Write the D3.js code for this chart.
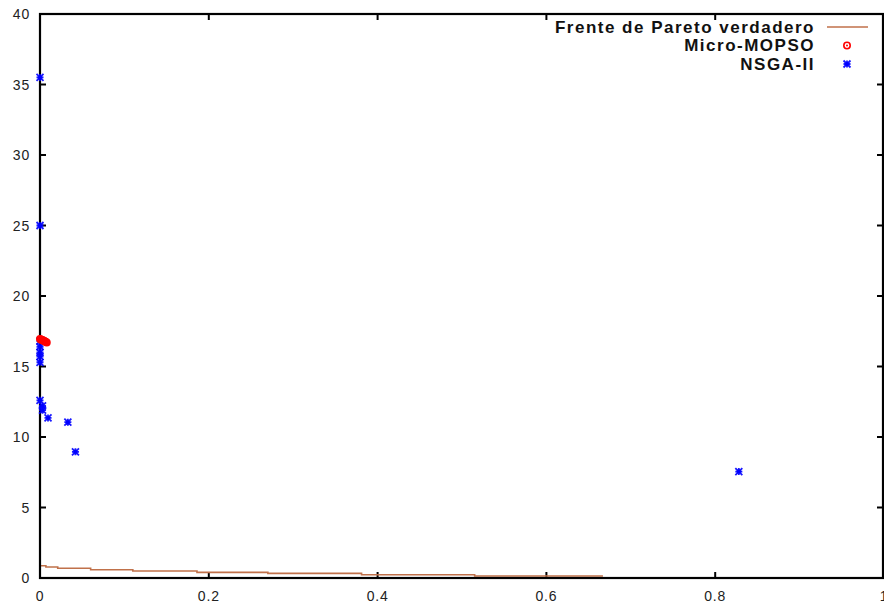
<!DOCTYPE html>
<html>
<head>
<meta charset="utf-8">
<script src="https://cdn.jsdelivr.net/npm/d3@7"></script>
<style>
  html, body { margin: 0; padding: 0; background: #fff; }
  svg { display: block; }
  .tick-label { font-family: "Liberation Sans", Arial, sans-serif; font-size: 14px; letter-spacing: 0.8px; fill: #222; }
  .key-label { font-family: "Liberation Sans", Arial, sans-serif; font-size: 17px; letter-spacing: 1.5px; font-weight: bold; fill: #111; }
</style>
</head>
<body>
<svg id="chart" width="884" height="605"></svg>
<script>
// True Pareto front (staircase): start of each step in f1 and its f2 level
const frontF1 = [0, 0.007, 0.021, 0.060, 0.110, 0.186, 0.270, 0.381, 0.515, 0.667];
const frontF2 = [0.87, 0.78, 0.69, 0.59, 0.50, 0.40, 0.33, 0.23, 0.14, 0.14];

// Micro-MOPSO solutions
const mopsoF1 = [0.000, 0.001, 0.002, 0.003, 0.004, 0.005, 0.006, 0.007, 0.008];
const mopsoF2 = [16.95, 16.92, 16.90, 16.87, 16.85, 16.80, 16.77, 16.74, 16.70];

// NSGA-II solutions
const nsgaF1 = [0.000, 0.000, 0.000, 0.000, 0.000, 0.000, 0.000, 0.000, 0.003, 0.003, 0.0095, 0.033, 0.042, 0.828];
const nsgaF2 = [35.5, 25.0, 16.8, 16.4, 16.0, 15.7, 15.3, 12.6, 12.2, 11.9, 11.35, 11.05, 8.95, 7.55];

// Axis ticks
const xTicks = [0, 0.2, 0.4, 0.6, 0.8, 1];
const xTickLabels = ["0", "0.2", "0.4", "0.6", "0.8", "1"];
const yTicks = [0, 5, 10, 15, 20, 25, 30, 35, 40];
const yTickLabels = ["0", "5", "10", "15", "20", "25", "30", "35", "40"];

// Legend entries
const keyLabels = ["Frente de Pareto verdadero", "Micro-MOPSO", "NSGA-II"];

const svg = d3.select("#chart");
const plotL = 40, plotR = 883, plotT = 14, plotB = 578;

const x = d3.scaleLinear().domain([0, 1]).range([plotL, plotL + 844]);
const y = d3.scaleLinear().domain([0, 40]).range([plotB, plotT]);

const frontColor = "#c0714a";
const mopsoColor = "#ff0000";
const nsgaColor = "#0000ff";

// Tick marks on all four sides (pointing inward)
const tickLen = 6;
const tg = svg.append("g").attr("stroke", "#000").attr("stroke-width", 2);
xTicks.forEach(t => {
  if (x(t) > plotR) return;
  tg.append("line").attr("x1", x(t)).attr("x2", x(t)).attr("y1", plotB).attr("y2", plotB - tickLen);
  tg.append("line").attr("x1", x(t)).attr("x2", x(t)).attr("y1", plotT).attr("y2", plotT + tickLen);
});
yTicks.forEach(t => {
  tg.append("line").attr("x1", plotL).attr("x2", plotL + tickLen).attr("y1", y(t)).attr("y2", y(t));
  tg.append("line").attr("x1", plotR).attr("x2", plotR - tickLen).attr("y1", y(t)).attr("y2", y(t));
});

// Tick labels
xTicks.forEach((t, i) => {
  svg.append("text").attr("class", "tick-label")
    .attr("x", x(t)).attr("y", 601).attr("text-anchor", "middle")
    .text(xTickLabels[i]);
});
yTicks.forEach((t, i) => {
  svg.append("text").attr("class", "tick-label")
    .attr("x", 30).attr("y", y(t)).attr("dy", "0.36em").attr("text-anchor", "end")
    .text(yTickLabels[i]);
});

// True Pareto front as a step line
const front = frontF1.map((d, i) => [d, frontF2[i]]);
svg.append("path")
  .attr("d", d3.line().x(d => x(d[0])).y(d => y(d[1])).curve(d3.curveStepAfter)(front))
  .attr("fill", "none").attr("stroke", frontColor).attr("stroke-width", 1.6);

// Plot border
svg.append("rect").attr("x", plotL).attr("y", plotT)
  .attr("width", plotR - plotL).attr("height", plotB - plotT)
  .attr("fill", "none").attr("stroke", "#000").attr("stroke-width", 2.2);

// Marker shapes
function circleMark(g, cx, cy) {
  g.append("circle").attr("cx", cx).attr("cy", cy).attr("r", 3.2)
    .attr("fill", "none").attr("stroke", mopsoColor).attr("stroke-width", 1.6);
  g.append("circle").attr("cx", cx).attr("cy", cy).attr("r", 1)
    .attr("fill", mopsoColor);
}
function starMark(g, cx, cy) {
  const s = 3.5;
  const p = `M${cx - s},${cy}L${cx + s},${cy}M${cx},${cy - s}L${cx},${cy + s}` +
            `M${cx - s},${cy - s}L${cx + s},${cy + s}M${cx - s},${cy + s}L${cx + s},${cy - s}`;
  g.append("path").attr("d", p).attr("stroke", nsgaColor).attr("stroke-width", 1.8)
    .attr("fill", "none").attr("opacity", 0.9);
  g.append("circle").attr("cx", cx).attr("cy", cy).attr("r", 2).attr("fill", nsgaColor);
}

// NSGA-II points
const gN = svg.append("g");
nsgaF1.forEach((d, i) => starMark(gN, x(d), y(nsgaF2[i])));

// Micro-MOPSO points
const gM = svg.append("g");
mopsoF1.forEach((d, i) => circleMark(gM, x(d), y(mopsoF2[i])));

// Legend
const keyX = 815, keyY = [27, 45.5, 64];
keyLabels.forEach((lab, i) => {
  svg.append("text").attr("class", "key-label")
    .attr("x", keyX).attr("y", keyY[i]).attr("dy", "0.35em").attr("text-anchor", "end")
    .text(lab);
});
svg.append("line").attr("x1", 827).attr("x2", 868).attr("y1", keyY[0]).attr("y2", keyY[0])
  .attr("stroke", frontColor).attr("stroke-width", 1.6);
circleMark(svg, 847, keyY[1]);
starMark(svg, 847, keyY[2]);
</script>
</body>
</html>
